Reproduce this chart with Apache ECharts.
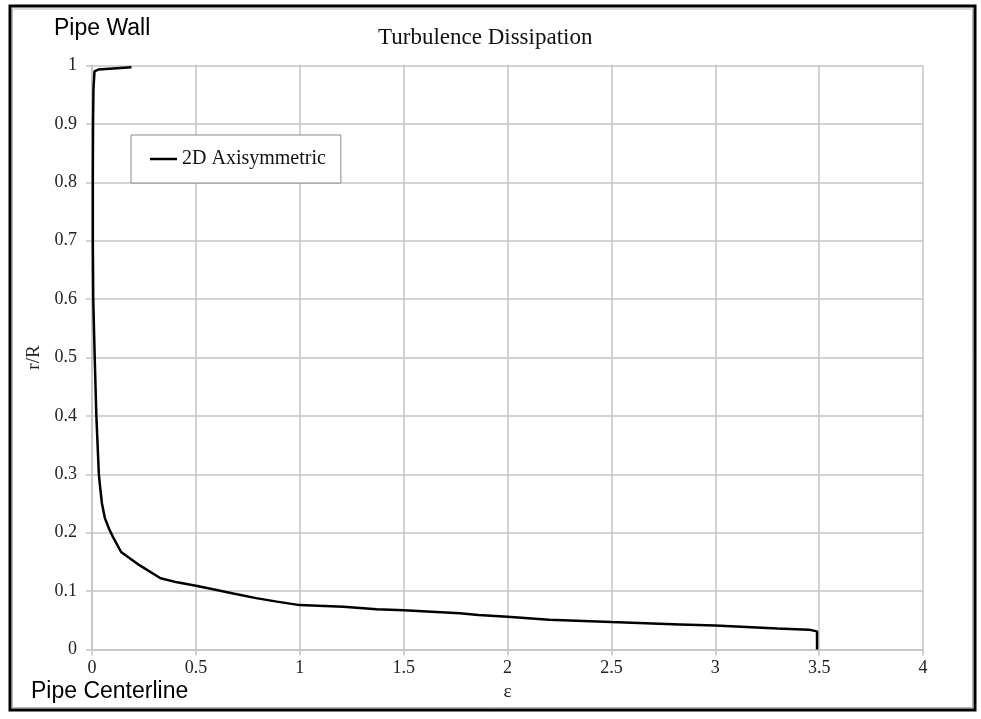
<!DOCTYPE html>
<html>
<head>
<meta charset="utf-8">
<title>Turbulence Dissipation</title>
<script src="https://cdn.jsdelivr.net/npm/echarts@6/dist/echarts.min.js"></script>
<style>
  html, body { margin: 0; padding: 0; background: #ffffff; }
  #chart { width: 981px; height: 719px; }
</style>
</head>
<body>
<div id="chart"></div>
<script>
// Dissipation profile across the pipe radius, centreline (r/R = 0) to wall (r/R = 1)
const seriesName = '2D Axisymmetric';
const epsilon = [
  3.49, 3.49, 3.45, 3.30, 3.15, 3.00, 2.83, 2.50, 2.20, 2.00,
  1.86, 1.77, 1.50, 1.37, 1.21, 1.00, 0.89, 0.79, 0.68, 0.60,
  0.50, 0.41, 0.33, 0.23, 0.14, 0.102, 0.083, 0.062, 0.048, 0.040,
  0.033, 0.021, 0.013, 0.006, 0.004, 0.004, 0.005, 0.007, 0.012, 0.03, 0.19
];
const radius = [
  0.000, 0.031, 0.034, 0.036, 0.0385, 0.041, 0.043, 0.047, 0.051, 0.056,
  0.059, 0.062, 0.067, 0.069, 0.073, 0.076, 0.082, 0.088, 0.096, 0.102,
  0.109, 0.115, 0.122, 0.144, 0.167, 0.192, 0.206, 0.225, 0.250, 0.275,
  0.300, 0.400, 0.500, 0.600, 0.700, 0.800, 0.900, 0.960, 0.990, 0.993, 0.997
];
const xTicks = [0, 0.5, 1, 1.5, 2, 2.5, 3, 3.5, 4];
const yTicks = [0, 0.1, 0.2, 0.3, 0.4, 0.5, 0.6, 0.7, 0.8, 0.9, 1];

const serif = '"Liberation Serif", "Times New Roman", serif';
const sans = '"Liberation Sans", Arial, sans-serif';
const gridColor = '#c4c4c4';

const points = epsilon.map((e, i) => [e, radius[i]]);

const chart = echarts.init(document.getElementById('chart'), null, { renderer: 'canvas' });
chart.setOption({
  animation: false,
  backgroundColor: '#ffffff',
  title: {
    text: 'Turbulence Dissipation',
    left: 373,
    top: 21,
    textStyle: { fontFamily: serif, fontSize: 23, fontWeight: 'normal', color: '#111' }
  },
  legend: {
    left: 131,
    top: 135,
    orient: 'vertical',
    icon: 'rect',
    itemWidth: 27,
    itemHeight: 2.5,
    padding: [14, 15, 14, 19],
    borderColor: '#8a8a8a',
    borderWidth: 1,
    backgroundColor: '#ffffff',
    textStyle: { fontFamily: serif, fontSize: 20, color: '#111' },
    data: [seriesName]
  },
  grid: { left: 92, right: 58, top: 65.5, bottom: 69.5, containLabel: false },
  xAxis: {
    type: 'value',
    min: xTicks[0],
    max: xTicks[xTicks.length - 1],
    interval: 0.5,
    name: 'ε',
    nameLocation: 'middle',
    nameGap: 32,
    nameTextStyle: { fontFamily: serif, fontSize: 19, color: '#222' },
    axisLine: { show: true, onZero: false, lineStyle: { color: gridColor, width: 1.5 } },
    axisTick: { show: true, inside: false, length: 6, lineStyle: { color: gridColor, width: 1.5 } },
    axisLabel: { margin: 10, fontFamily: serif, fontSize: 18, color: '#222', formatter: v => String(v) },
    splitLine: { show: true, lineStyle: { color: gridColor, width: 1.5 } }
  },
  yAxis: {
    type: 'value',
    min: yTicks[0],
    max: yTicks[yTicks.length - 1],
    interval: 0.1,
    name: 'r/R',
    nameLocation: 'middle',
    nameGap: 43,
    nameRotate: 90,
    nameTextStyle: { fontFamily: serif, fontSize: 19, color: '#222' },
    axisLine: { show: true, onZero: false, lineStyle: { color: gridColor, width: 1.5 } },
    axisTick: { show: true, inside: false, length: 6, lineStyle: { color: gridColor, width: 1.5 } },
    axisLabel: { margin: 15, fontFamily: serif, fontSize: 18, color: '#222', formatter: v => String(Math.round(v * 10) / 10) },
    splitLine: { show: true, lineStyle: { color: gridColor, width: 1.5 } }
  },
  series: [{
    name: seriesName,
    type: 'line',
    data: points,
    showSymbol: false,
    symbol: 'none',
    smooth: false,
    lineStyle: { color: '#000000', width: 2.5 },
    itemStyle: { color: '#000000' }
  }],
  graphic: [
    {
      type: 'rect',
      silent: true,
      shape: { x: 10, y: 6, width: 965, height: 704 },
      style: { fill: null, stroke: '#000000', lineWidth: 3 }
    },
    {
      type: 'rect',
      silent: true,
      shape: { x: 12.5, y: 9, width: 960, height: 698.5 },
      style: { fill: null, stroke: '#b4b4b4', lineWidth: 1 }
    },
    {
      type: 'text',
      silent: true,
      left: 54,
      top: 17,
      style: { text: 'Pipe Wall', font: '23px ' + sans, fill: '#000' }
    },
    {
      type: 'text',
      silent: true,
      left: 31,
      top: 680,
      style: { text: 'Pipe Centerline', font: '23px ' + sans, fill: '#000' }
    }
  ]
});
</script>
</body>
</html>
